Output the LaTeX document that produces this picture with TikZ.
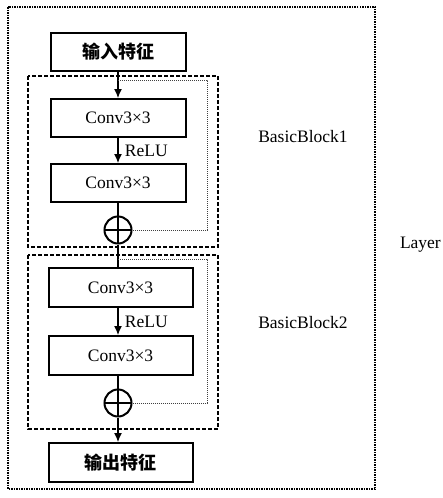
\documentclass[tikz,border=0pt]{standalone}
\usepackage{fontspec}
\setmainfont{Liberation Serif}
\newfontfamily\cjkfont{Noto Sans CJK SC}
\usetikzlibrary{arrows.meta, positioning, calc}
\tikzset{
    layerBox/.style={densely dotted, line width=1.5pt},
    blockBox/.style={dash pattern=on 4pt off 2pt, line width=1.8pt},
    convBox/.style={rectangle, draw, line width=2pt, inner sep=0pt, minimum width=135pt, minimum height=38pt, font=\fontsize{17.5}{20}\selectfont},
    featBox/.style={convBox, font=\cjkfont\bfseries\fontsize{18}{20}\selectfont},
    sumNode/.style={circle, draw, line width=2pt, inner sep=0pt, minimum size=27pt,
        path picture={\draw[line width=1.6pt] (path picture bounding box.north) -- (path picture bounding box.south)
            (path picture bounding box.west) -- (path picture bounding box.east);}},
    flowLine/.style={line width=1.2pt},
    flowArrow/.style={flowLine, -{Latex[length=9pt, width=8pt]}},
    skipLine/.style={line width=1pt, densely dotted, black!75},
    blockLabel/.style={font=\fontsize{17.5}{20}\selectfont}
}
\begin{document}
\begin{tikzpicture}[x=1pt, y=-1pt]
        \useasboundingbox (0,0) rectangle (442,498);

        % Outer layer frame and the two blocks
        \draw[layerBox] (8,7) rectangle (375,489);
        \draw[blockBox] (28,76) rectangle (218,247);
        \draw[blockBox] (28,255) rectangle (218,429);

        % Nodes
        \node[featBox] (in) at (118,51.5) {输入特征};
        \node[convBox] (c1) at (118,118) {Conv3×3};
        \node[convBox] (c2) at (118,183) {Conv3×3};
        \node[sumNode] (sum1) at (118,230) {};
        \node[convBox, minimum width=144pt, minimum height=39pt] (c3) at (120.5,287.5) {Conv3×3};
        \node[convBox, minimum width=144pt, minimum height=39pt] (c4) at (120.5,355.5) {Conv3×3};
        \node[sumNode] (sum2) at (118,403) {};
        \node[featBox, minimum width=144pt, minimum height=39pt] (out) at (120.5,462.5) {输出特征};

        % Labels
        \node[blockLabel] (bb1) at (303,137) {BasicBlock1};
        \node[blockLabel] (bb2) at (303,323) {BasicBlock2};
        \node[blockLabel, anchor=east, inner xsep=1pt] (layer) at (442,245) {Layer};

        % Main path
        \draw[flowArrow] (in) -- (c1);
        \draw[flowArrow] (c1) -- (c2) node[midway, right, xshift=3pt] {\fontsize{17.5}{20}\selectfont ReLU};
        \draw[flowLine] (c2) -- (sum1);
        \draw[flowLine] (sum1) -- (sum1 |- c3.north);
        \draw[flowArrow] (c3.south -| sum1) -- (c4.north -| sum1) node[midway, right, xshift=3pt] {\fontsize{17.5}{20}\selectfont ReLU};
        \draw[flowLine] (c4.south -| sum2) -- (sum2);
        \draw[flowArrow] (sum2) -- (sum2 |- out.north);

        % Skip connections
        \coordinate (sk1) at (118,80);
        \coordinate (sk2) at (118,259);
        \draw[skipLine] (sk1) -- ++(89,0) |- (sum1.east);
        \draw[skipLine] (sk2) -- ++(89,0) |- (sum2.east);

    \end{tikzpicture}
\end{document}
